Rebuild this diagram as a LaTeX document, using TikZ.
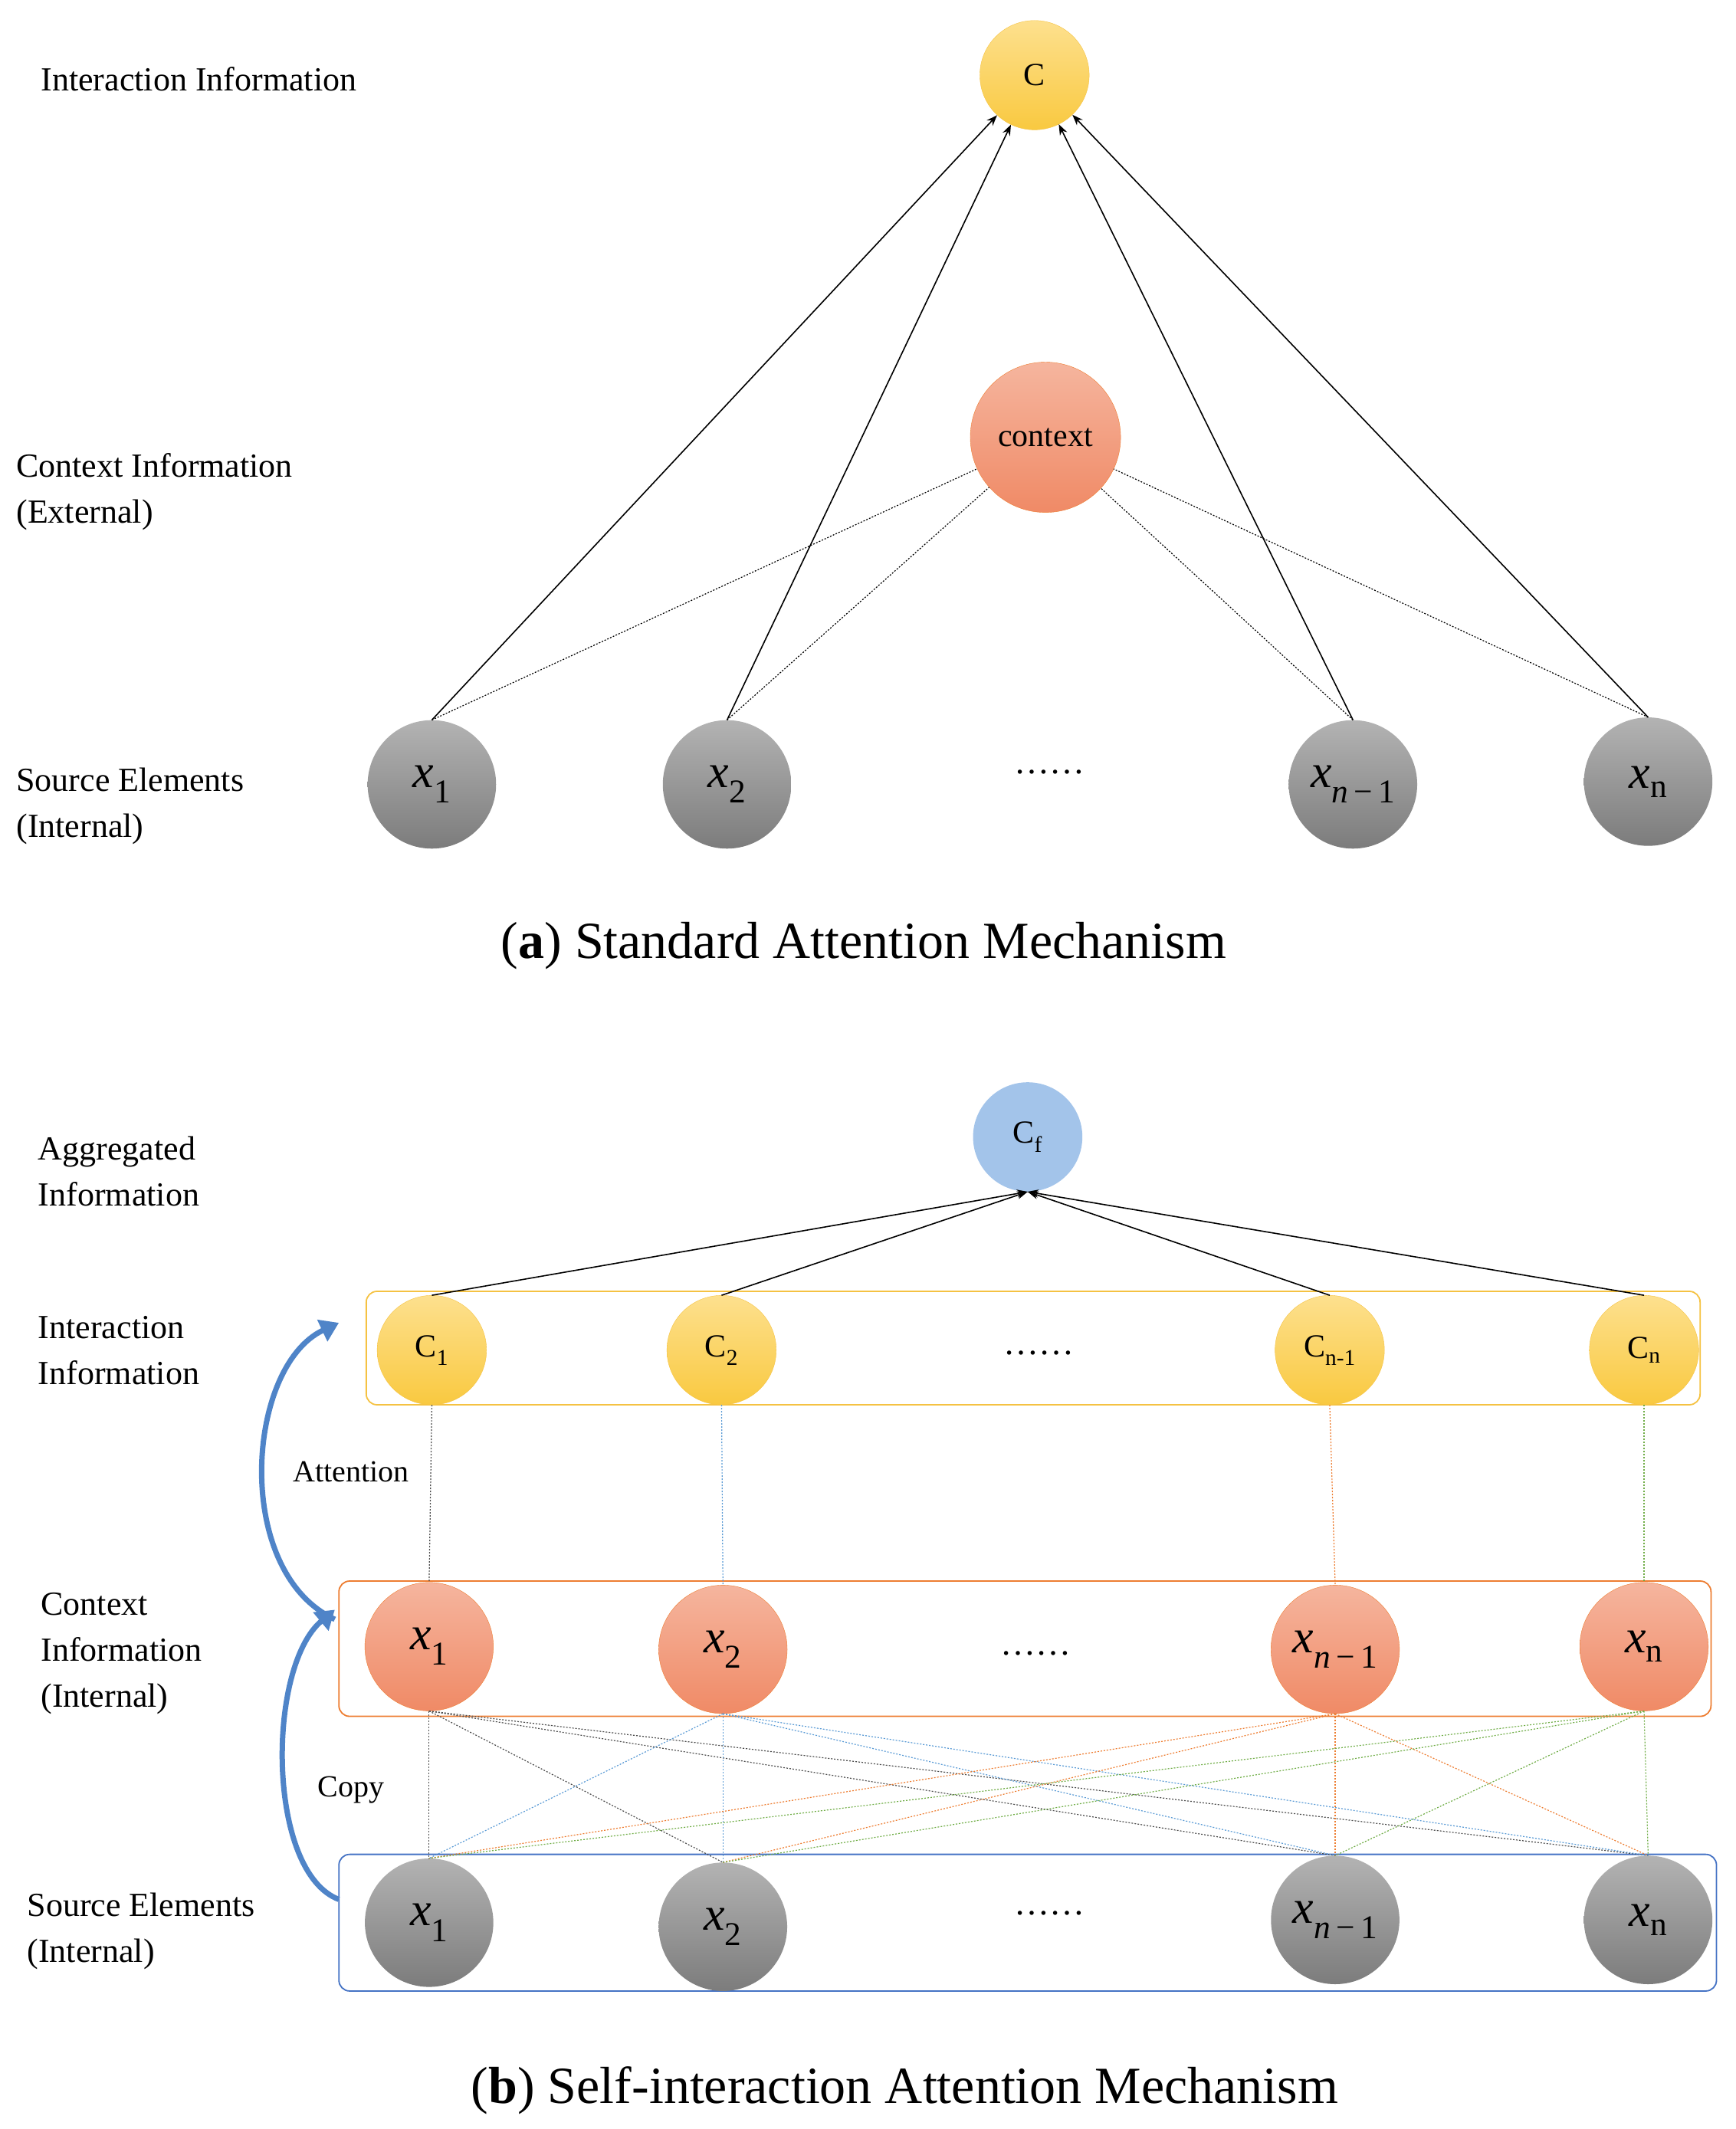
\documentclass[tikz,border=0pt]{standalone}
\usepackage{fontspec}
\setmainfont{Liberation Serif}
\usetikzlibrary{arrows.meta}
\definecolor{yb}{HTML}{F5C242}\definecolor{ob}{HTML}{ED7D31}\definecolor{bb}{HTML}{4472C4}
\definecolor{gA}{HTML}{B3B3B3}\definecolor{gB}{HTML}{7C7C7C}
\definecolor{yA}{HTML}{FDE08E}\definecolor{yB}{HTML}{F9C940}
\definecolor{oA}{HTML}{F5B59E}\definecolor{oB}{HTML}{F08A66}
\definecolor{cf}{HTML}{A3C4EA}\definecolor{ar}{HTML}{4F84C8}
\definecolor{gr}{HTML}{70AD47}\definecolor{bl}{HTML}{5B9BD5}
\newcommand{\xv}[1]{\textit{x}\textsubscript{#1}}
\begin{document}
\begin{tikzpicture}[x=1.783pt,y=-1.783pt,
 xf/.style={font=\fontsize{62}{62}\selectfont},
 gray/.style={circle,minimum size=94*1.783pt,inner sep=0,top color=gA,bottom color=gB,draw=none,xf},
 yel/.style={circle,minimum size=80*1.783pt,inner sep=0,top color=yA,bottom color=yB,draw=yb,font=\fontsize{42}{42}\selectfont},
 org/.style={circle,minimum size=94*1.783pt,inner sep=0,top color=oA,bottom color=oB,draw=ob,xf},
 lab/.style={anchor=west,align=left,font=\fontsize{44}{60}\selectfont},
 captxt/.style={font=\fontsize{68}{68}\selectfont},
 dot/.style={dash pattern=on 2pt off 2pt,line width=1.2pt},
 arr/.style={-{Stealth[length=14pt]},line width=1.6pt},
 big/.style={line width=7pt,ar,-{Triangle[length=24pt,width=30pt]}},
 box/.style={rounded corners=14pt,line width=1.8pt,fill=none}]
\useasboundingbox (0,0) rectangle (1270,1558);
% (a)
\node[lab] (l1) at (28,58) {Interaction Information};
\node[lab] (l2) at (10,360) {Context Information\\(External)};
\node[lab] (l3) at (10,590) {Source Elements\\(Internal)};
\node[yel] (C) at (757,55) {C};
\node[org,minimum size=110*1.783pt,font=\fontsize{42}{42}\selectfont] (ctx) at (765,320) {context};
\node[gray] (a1) at (316,574) {\xv{1}};
\node[gray] (a2) at (532,574) {\xv{2}};
\node[font=\fontsize{46}{46}\selectfont] (ad) at (768,565) {\dots\dots};
\node[gray] (a3) at (990,574) {\xv{\textit{n}\,−\,1}};
\node[gray] (a4) at (1206,572) {\xv{n}};
\foreach \a in {a1,a2,a3,a4}{\draw[arr] (\a.north) -- (C); \draw[dot] (\a.north) -- (ctx);}
\node[captxt] (capa) at (632,692) {(\textbf{a}) Standard Attention Mechanism};
% (b)
\node[lab] (m1) at (26,857) {Aggregated\\Information};
\node[lab] (m2) at (26,988) {Interaction\\Information};
\node[lab] (m3) at (28,1210) {Context\\Information\\(Internal)};
\node[lab] (m4) at (18,1413) {Source Elements\\(Internal)};
\node[circle,minimum size=80*1.783pt,inner sep=0,fill=cf,font=\fontsize{42}{42}\selectfont] (Cf) at (752,832) {C\textsubscript{f}};
\node[draw=yb,box,minimum width=976*1.783pt,minimum height=83*1.783pt] (yb) at (756,986.5) {};
\node[draw=ob,box,minimum width=1004*1.783pt,minimum height=99*1.783pt] (obx) at (750,1206.5) {};
\node[draw=bb,box,minimum width=1008*1.783pt,minimum height=100*1.783pt] (bbx) at (752,1407) {};
\node[yel] (c1) at (316,988) {C\textsubscript{1}};
\node[yel] (c2) at (528,988) {C\textsubscript{2}};
\node[font=\fontsize{46}{46}\selectfont] (cd) at (760,990) {\dots\dots};
\node[yel] (c3) at (973,988) {C\textsubscript{n-1}};
\node[yel] (c4) at (1203,988) {C\textsubscript{n}};
\node[org] (o1) at (314,1205) {\xv{1}};
\node[org] (o2) at (529,1207) {\xv{2}};
\node[font=\fontsize{46}{46}\selectfont] (od) at (758,1210) {\dots\dots};
\node[org] (o3) at (977,1207) {\xv{\textit{n}\,−\,1}};
\node[org] (o4) at (1203,1205) {\xv{n}};
\node[gray] (g1) at (314,1407) {\xv{1}};
\node[gray] (g2) at (529,1410) {\xv{2}};
\node[font=\fontsize{46}{46}\selectfont] (gd) at (768,1400) {\dots\dots};
\node[gray] (g3) at (977,1405) {\xv{\textit{n}\,−\,1}};
\node[gray] (g4) at (1206,1405) {\xv{n}};
\foreach \c in {c1,c2,c3,c4}{\draw[arr] (\c.north) -- (Cf.south);}
\draw[dot,black!70] (c1.south)--(o1.north);
\draw[dot,bl] (c2.south)--(o2.north);
\draw[dot,ob] (c3.south)--(o3.north);
\draw[dot,gr] (c4.south)--(o4.north);
\foreach \o/\cc in {o1/black!70,o2/bl,o3/ob,o4/gr}{
 \foreach \g in {g1,g2,g3,g4}{\draw[dot,\cc] (\o.south) -- (\g.north);}}
\coordinate (p1) at (245,1185); \coordinate (p2) at (248,968);
\coordinate (q1) at (248,1390); \coordinate (q2) at (245,1178);
\draw[big] (p1) .. controls (170,1150) and (180,1000) .. (p2);
\draw[big] (q1) .. controls (195,1370) and (195,1220) .. (q2);
\node[font=\fontsize{40}{40}\selectfont] (att) at (257,1077) {Attention};
\node[font=\fontsize{40}{40}\selectfont] (cp) at (257,1310) {Copy};
\node[captxt] (capb) at (662,1530) {(\textbf{b}) Self-interaction Attention Mechanism};
\end{tikzpicture}
\end{document}
